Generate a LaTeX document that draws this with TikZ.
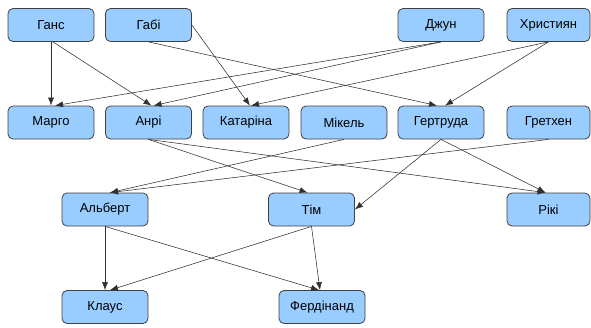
\documentclass[tikz,border=0pt]{standalone}
\usepackage{fontspec}
\setmainfont{Liberation Sans}
\usetikzlibrary{arrows.meta}
\definecolor{boxfill}{HTML}{99CCFF}
\definecolor{boxline}{HTML}{404040}
\definecolor{edgeline}{HTML}{303030}
\begin{document}
\begin{tikzpicture}[x=1pt,y=-1pt,
  person/.style={draw=boxline, fill=boxfill, line width=0.8pt, rounded corners=5pt,
    minimum width=86pt, minimum height=33pt, inner sep=0pt,
    font=\fontsize{13}{15}\selectfont},
  edgebox/.style={minimum width=83pt},
  link/.style={draw=edgeline, line width=0.55pt, -{Latex[length=8pt,width=6pt]}}]
\useasboundingbox (0,0) rectangle (591,327);
% first generation
\node[person] (hans)   at (51,25)    {Ганс};
\node[person] (gabi)   at (148.5,25) {Габі};
\node[person] (jun)    at (441,25)   {Джун};
\node[person,edgebox] (christ) at (548.5,25) {Християн};
% second generation
\node[person] (margo)  at (51,122.5)    {Марго};
\node[person] (henri)  at (148.5,122.5) {Анрі};
\node[person] (kat)    at (246,122.5)   {Катаріна};
\node[person] (mikel)  at (344,122.5)   {Мікель};
\node[person] (gert)   at (441,122.5)   {Гертруда};
\node[person,edgebox] (gret) at (548.5,122.5) {Гретхен};
% third generation
\node[person] (albert) at (105,209.5)   {Альберт};
\node[person] (tim)    at (311.5,209.5) {Тім};
\node[person,edgebox] (riki) at (548.5,209.5) {Рікі};
% fourth generation
\node[person] (klaus)  at (105,307) {Клаус};
\node[person] (ferd)   at (322,307) {Фердінанд};
% parent links
\draw[link] (hans.south) -- (margo.north);
\draw[link] ([xshift=2pt]hans.south) -- ([xshift=3pt]henri.north);
\draw[link] (gabi.east) -- ([xshift=4pt]kat.north);
\draw[link] (gabi.south) -- ([xshift=-4pt]gert.north);
\draw[link] (jun.south) -- ([xshift=4pt]margo.north);
\draw[link] (jun.south) -- ([xshift=5pt]henri.north);
\draw[link] (christ.south) -- ([xshift=5pt]kat.north);
\draw[link] (christ.south) -- ([xshift=4pt]gert.north);
\draw[link] (henri.south) -- ([xshift=-4pt]tim.north);
\draw[link] (henri.south) -- ([xshift=-3pt]riki.north);
\draw[link] (mikel.south) -- ([xshift=5pt]albert.north);
\draw[link] (gret.south) -- ([xshift=5pt]albert.north);
\draw[link] (gert.south) -- (tim.east);
\draw[link] (gert.south) -- ([xshift=-3pt]riki.north);
\draw[link] (albert.south) -- (klaus.north);
\draw[link] (albert.south) -- ([xshift=-3pt]ferd.north);
\draw[link] (tim.south) -- ([xshift=5pt]klaus.north);
\draw[link] (tim.south) -- ([xshift=-2pt]ferd.north);
\end{tikzpicture}
\end{document}
